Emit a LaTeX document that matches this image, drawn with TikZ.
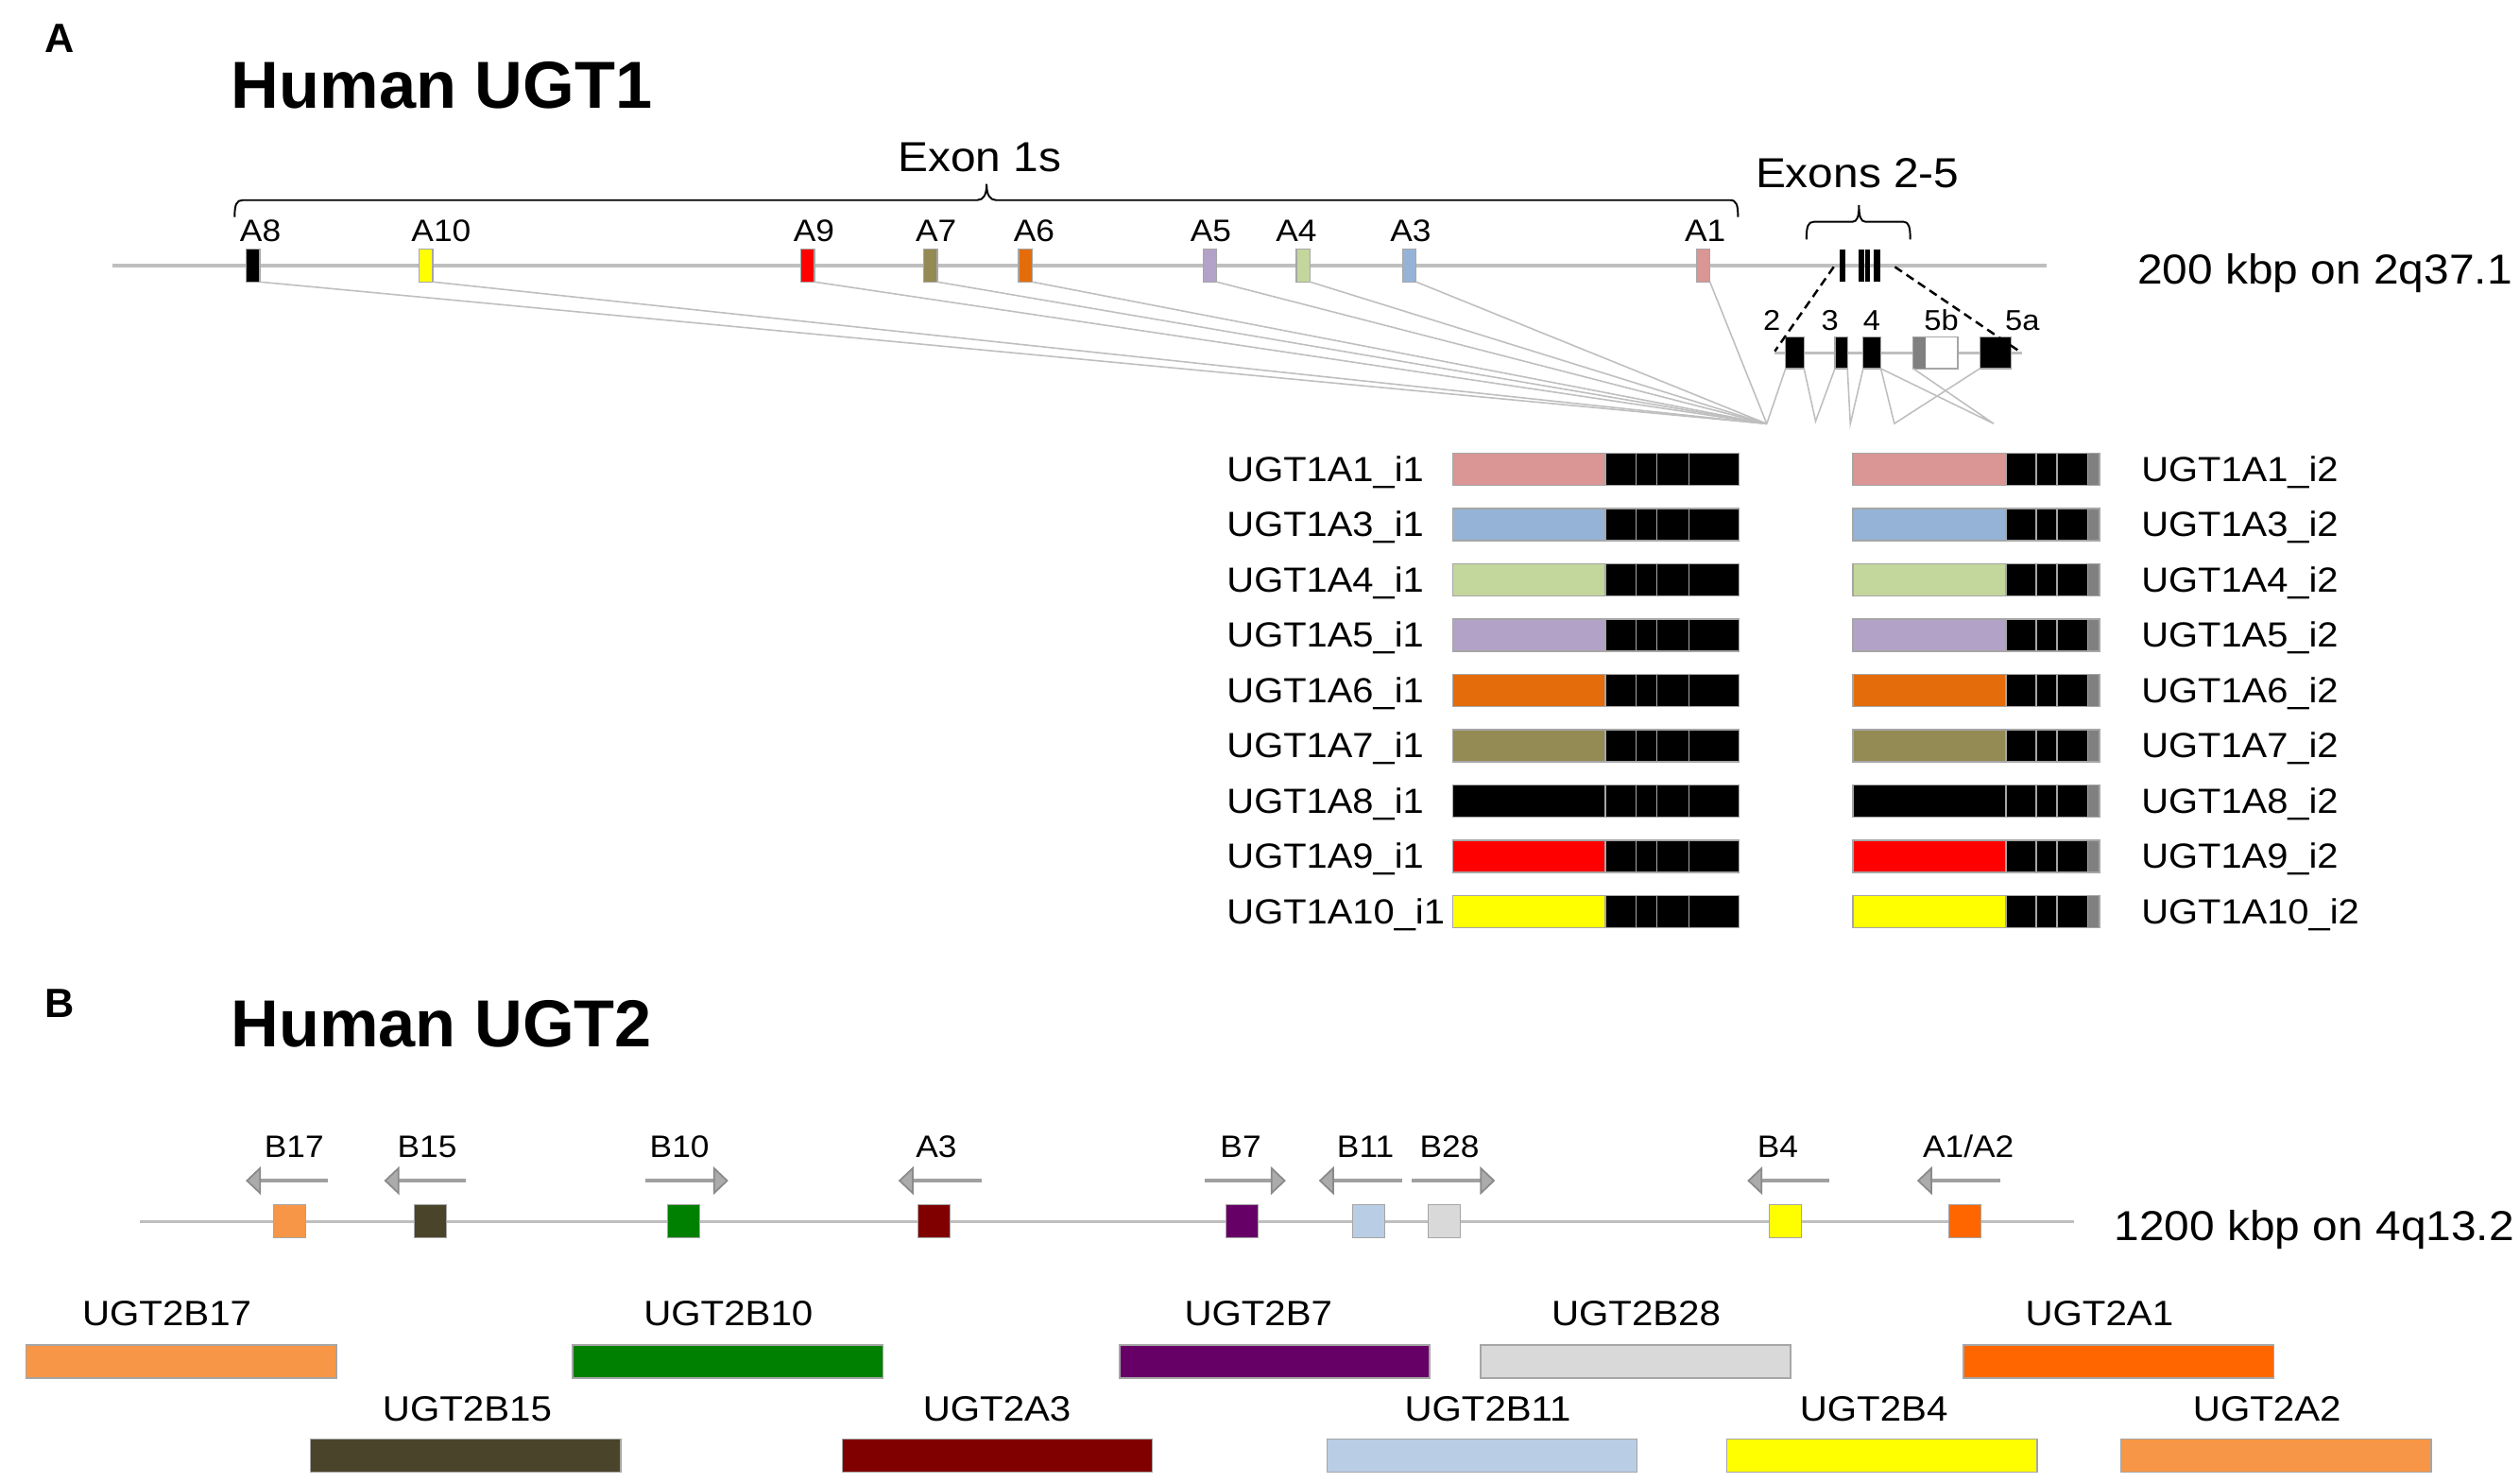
\documentclass[tikz,border=0pt]{standalone}
\usepackage{fontspec}
\setmainfont{Liberation Sans}[FakeStretch=1.08]
\newfontfamily\titlefont{Liberation Sans}
\usetikzlibrary{arrows.meta}
\definecolor{cA1}{HTML}{D99694}
\definecolor{cA3}{HTML}{95B3D7}
\definecolor{cA4}{HTML}{C3D69B}
\definecolor{cA5}{HTML}{B3A2C7}
\definecolor{cA6}{HTML}{E46C0A}
\definecolor{cA7}{HTML}{948A54}
\definecolor{cA8}{HTML}{000000}
\definecolor{cA9}{HTML}{FF0000}
\definecolor{cA10}{HTML}{FFFF00}
\definecolor{cB17}{HTML}{F79646}
\definecolor{cB15}{HTML}{4A452A}
\definecolor{cB10}{HTML}{008000}
\definecolor{cBA3}{HTML}{800000}
\definecolor{cB7}{HTML}{660066}
\definecolor{cB11}{HTML}{B9CDE5}
\definecolor{cB28}{HTML}{D9D9D9}
\definecolor{cB4}{HTML}{FFFF00}
\definecolor{cBA1}{HTML}{FF6600}
\definecolor{chrom}{HTML}{BFBFBF}
\definecolor{outl}{HTML}{A6A6A6}
\definecolor{midgray}{HTML}{808080}
\definecolor{arrgray}{HTML}{A0A0A0}
\definecolor{tipfill}{HTML}{ABABAB}
\definecolor{tipline}{HTML}{8A8A8A}
\tikzset{pxw/.style={minimum width=#1*0.017cm}}
\tikzset{pxh/.style={minimum height=#1*0.017cm}}
\tikzset{pxb/.style={rectangle, inner sep=0pt, outer sep=0pt}}
\tikzset{exA/.style={pxb, pxw=8.5, pxh=20.5, draw=outl, line width=0.35pt}}
\tikzset{bxB/.style={pxb, pxw=20, pxh=20.4, draw=outl, line width=0.35pt}}
\tikzset{gbar/.style={pxb, pxw=193, pxh=20.6, draw=outl, line width=0.45pt}}
\tikzset{seg/.style={draw=outl, line width=0.45pt}}
\tikzset{chromline/.style={draw=chrom, line width=1.3pt}}
\tikzset{chromlineB/.style={draw=chrom, line width=0.95pt}}
\tikzset{fan/.style={draw=chrom, line width=0.45pt}}
\tikzset{brk/.style={draw=black, line width=0.55pt}}
\tikzset{dsh/.style={draw=black, line width=0.7pt, dash pattern=on 2.6pt off 1.6pt}}
\tikzset{small/.style={inner sep=0pt, anchor=base, font=\fontsize{9.3}{9.3}\selectfont}}
\tikzset{exlbl/.style={inner sep=0pt, anchor=base, font=\fontsize{8.6}{8.6}\selectfont}}
\tikzset{mid/.style={inner sep=0pt, anchor=base, font=\fontsize{12.6}{12.6}\selectfont}}
\tikzset{midw/.style={inner sep=0pt, anchor=base west, font=\fontsize{12.6}{12.6}\selectfont}}
\tikzset{rowlbl/.style={inner sep=0pt, anchor=base west, font=\fontsize{10.5}{10.5}\selectfont}}
\tikzset{genelbl/.style={inner sep=0pt, anchor=base, font=\fontsize{10.6}{10.6}\selectfont}}
\tikzset{ttl/.style={inner sep=0pt, anchor=base west, font=\titlefont\bfseries\fontsize{20}{20}\selectfont}}
\tikzset{panel/.style={inner sep=0pt, anchor=base west, font=\titlefont\bfseries\fontsize{12.3}{12.3}\selectfont}}
\tikzset{garrow/.style={draw=arrgray, line width=1.25pt, -{Triangle[length=0.16cm, width=0.30cm, line width=0.5pt, fill=tipfill, color=tipline]}}}
\begin{document}
\begin{tikzpicture}[x=0.017cm, y=-0.017cm]
\useasboundingbox (0,0) rectangle (1568,922);

% ---------------- Panel A ----------------
\node[panel] (pA) at (27.7,32.9) {A};
\node[ttl] (tA) at (143.5,67.6) {Human UGT1};

% brackets
\draw[brk] (146,135) .. controls (146,127.5) and (147,124.5) .. (151,124.5)
  -- (608,124.5) .. controls (612,124.5) and (613.9,121) .. (613.9,114.5)
  .. controls (613.9,121) and (615.8,124.5) .. (619.8,124.5)
  -- (1076.5,124.5) .. controls (1080.5,124.5) and (1081.4,127.5) .. (1081.4,135);
\node[mid] (ex1) at (609.6,106.8) {Exon 1s};
\draw[brk] (1124,149) .. controls (1124,141) and (1125,138) .. (1128.5,138)
  -- (1152.5,138) .. controls (1155.7,138) and (1156.7,134.5) .. (1156.7,127.5)
  .. controls (1156.7,134.5) and (1157.7,138) .. (1160.9,138)
  -- (1184.5,138) .. controls (1187.6,138) and (1188.6,141) .. (1188.6,149);
\node[mid] (ex25) at (1155.7,116.6) {Exons 2-5};

% chromosome
\coordinate (cAl) at (70,165.2);
\coordinate (cAr) at (1273.6,165.2);
\draw[chromline] (cAl) -- (cAr);
\node[midw] (kbpA) at (1329.6,176.5) {200 kbp on 2q37.1};

% exons 2-5 on chromosome
\fill[black] (1144.6,155) rectangle (1148.1,175.4);
\fill[black] (1156.4,155) rectangle (1160,175.4);
\fill[black] (1160.6,155) rectangle (1163.4,175.4);
\fill[black] (1165.8,155) rectangle (1170.2,175.4);

% convergence points
\coordinate (P1) at (1099.3,263.6);
\coordinate (P2) at (1129.7,262);
\coordinate (P3) at (1151.3,263.6);
\coordinate (P4) at (1178.7,263.5);
\coordinate (P5) at (1240.5,263.5);

% exon 1 boxes
\foreach \n/\x/\lx/\c in {A8/157.4/162/cA8, A10/265/274.5/cA10, A9/502.5/506.5/cA9,
  A7/578.9/582.5/cA7, A6/638/643.5/cA6, A5/752.8/753.4/cA5, A4/810.9/806.6/cA4,
  A3/876.9/877.7/cA3, A1/1059.7/1061/cA1}{
  \node[exA, fill=\c] (e\n) at (\x,165.1) {};
  \node[small] (l\n) at (\lx,150) {\n};
  \draw[fan] (e\n.south east) -- (P1);
}

% detail of exons 2-5
\coordinate (dl) at (1104.3,219.5);
\coordinate (dr) at (1258,219.5);
\draw[draw=chrom, line width=0.8pt] (dl) -- (dr);
\node[pxb, pxw=11.5, pxh=19.6, fill=black, draw=outl, line width=0.35pt] (x2) at (1116.75,219.5) {};
\node[pxb, pxw=7.8, pxh=19.6, fill=black, draw=outl, line width=0.35pt] (x3) at (1145.6,219.5) {};
\node[pxb, pxw=11, pxh=19.6, fill=black, draw=outl, line width=0.35pt] (x4) at (1164.8,219.5) {};
\node[pxb, pxw=27.8, pxh=19.6, fill=white, draw=outl, line width=0.45pt] (x5b) at (1204.4,219.5) {};
\fill[midgray] (x5b.north west) rectangle ([xshift=0.1275cm]x5b.south west);
\node[pxb, pxw=19.6, pxh=19.6, fill=black, draw=outl, line width=0.35pt] (x5a) at (1241.6,219.5) {};
\node[exlbl] (n2) at (1102.5,205.4) {2};
\node[exlbl] (n3) at (1138.6,205.4) {3};
\node[exlbl] (n4) at (1164.6,205.4) {4};
\node[exlbl] (n5b) at (1207.9,205.4) {5b};
\node[exlbl] (n5a) at (1258.3,205.4) {5a};

% dashed zoom lines
\coordinate (zl0) at (1141,166);
\coordinate (zr0) at (1179,166);
\coordinate (zl1) at (1104.3,218.5);
\coordinate (zr1) at (1256.5,218.5);
\draw[dsh] (zl0) -- (zl1);
\draw[dsh] (zr0) -- (zr1);

% splice lines
\draw[fan] (x2.south west) -- (P1);
\draw[fan] (x2.south east) -- (P2) -- (x3.south west);
\draw[fan] (x3.south east) -- (P3) -- (x4.south west);
\draw[fan] (x4.south east) -- (P4) -- (x5a.south west);
\draw[fan] (x4.south east) -- (P5) -- (x5b.south west);

% transcripts
\foreach \nm/\c [count=\i from 0] in {1A1/cA1, 1A3/cA3, 1A4/cA4, 1A5/cA5, 1A6/cA6,
  1A7/cA7, 1A8/cA8, 1A9/cA9, 1A10/cA10}{
  \pgfmathsetmacro\yc{291.8+34.4*\i}
  \node[rowlbl] (ti\i) at (763,\yc+7.7) {UGT\nm\_i1};
  \node[rowlbl] (tj\i) at (1332,\yc+7.7) {UGT\nm\_i2};
  \draw[seg, fill=\c] (904,\yc-10) rectangle (999,\yc+10);
  \foreach \a/\b in {999/1018,1018/1031,1031/1051,1051/1082}
    \draw[seg, fill=black] (\a,\yc-10) rectangle (\b,\yc+10);
  \draw[seg, fill=\c] (1152.8,\yc-10) rectangle (1248,\yc+10);
  \foreach \a/\b in {1248/1267,1267/1280,1280/1299}
    \draw[seg, fill=black] (\a,\yc-10) rectangle (\b,\yc+10);
  \draw[seg, fill=midgray] (1299,\yc-10) rectangle (1306.2,\yc+10);
}

% ---------------- Panel B ----------------
\node[panel] (pB) at (27.7,632.7) {B};
\node[ttl] (tB) at (143.3,651.4) {Human UGT2};

\coordinate (cBl) at (87.1,760);
\coordinate (cBr) at (1290.6,760);
\draw[chromlineB] (cBl) -- (cBr);
\node[midw] (kbpB) at (1315.2,771.5) {1200 kbp on 4q13.2};

\foreach \n/\t/\x/\c/\lx/\tx/\hx in {
  B17/B17/180.3/cB17/183/204.1/152.9,
  B15/B15/267.9/cB15/265.8/290.1/239,
  B10/B10/425.3/cB10/422.8/401.5/453.2,
  A3/A3/581.3/cBA3/582.6/610.7/559,
  B7/B7/772.7/cB7/772/749.5/800.1,
  B11/B11/851.4/cB11/849.6/872.4/820.6,
  B28/B28/898.6/cB28/901.9/878.5/930.3,
  B4/B4/1110.7/cB4/1106.1/1138.4/1087.2,
  A12/A1\slash A2/1222.8/cBA1/1224.8/1244.5/1192.8}{
  \node[bxB, fill=\c] (g\n) at (\x,759.7) {};
  \coordinate (at\n) at (\tx,734.4);
  \coordinate (ah\n) at (\hx,734.4);
  \draw[garrow] (at\n) -- (ah\n);
  \node[small] (m\n) at (\lx,720) {\t};
}

% gene bars
\foreach \n/\x/\lx/\c in {2B17/112.65/103.8/cB17, 2B10/452.95/453.2/cB10,
  2B7/793.05/783/cB7, 2B28/1017.75/1018/cB28, 2A1/1318.35/1306.3/cBA1}{
  \node[gbar, fill=\c] (b\n) at (\x,847) {};
  \node[genelbl] (bl\n) at (\lx,824.8) {UGT\n};
}
\foreach \n/\x/\lx/\c in {2B15/289.6/290.7/cB15, 2A3/620.55/620.3/cBA3,
  2B11/922.15/925.7/cB11, 2B4/1171/1165.9/cB4, 2A2/1416.2/1410.6/cB17}{
  \node[gbar, fill=\c] (b\n) at (\x,905.3) {};
  \node[genelbl] (bl\n) at (\lx,884) {UGT\n};
}
\end{tikzpicture}
\end{document}
